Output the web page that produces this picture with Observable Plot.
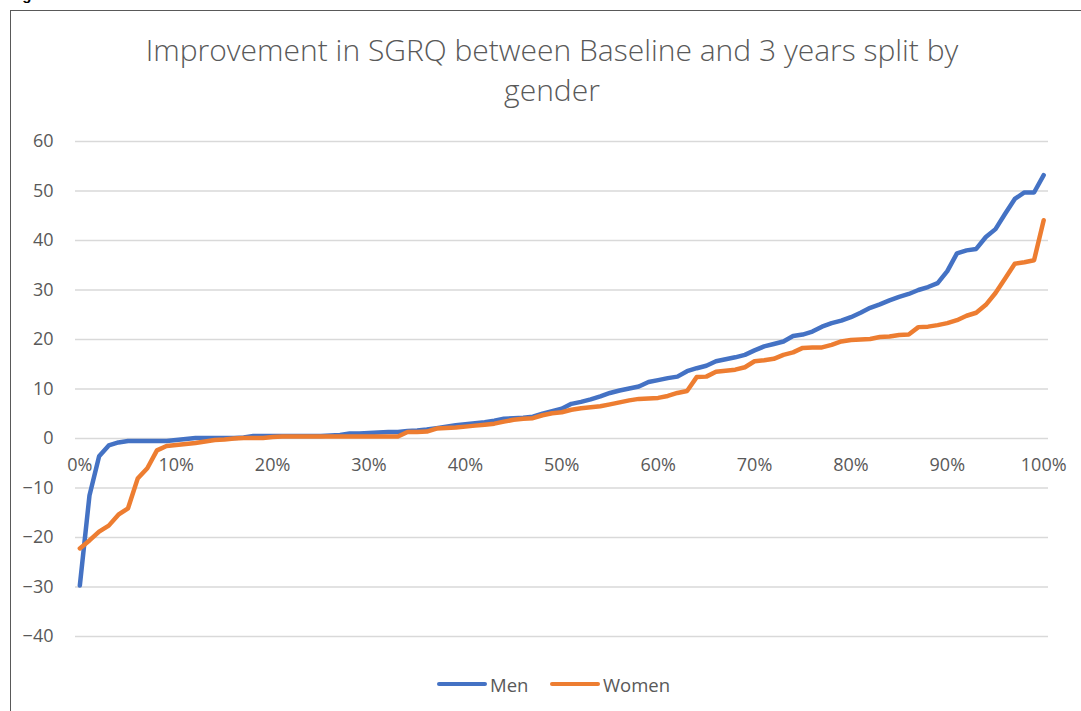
<!DOCTYPE html>
<html>
<head>
<meta charset="utf-8">
<script src="https://cdn.jsdelivr.net/npm/d3@7"></script>
<script src="https://cdn.jsdelivr.net/npm/@observablehq/plot@0.6"></script>
<style>
  html, body { margin: 0; padding: 0; background: #fff; }
  #wrap { position: relative; width: 1081px; height: 711px; overflow: hidden; font-family: "Open Sans", sans-serif; }
  #frame { position: absolute; left: 10px; top: 10px; width: 1090px; height: 720px; border: 1px solid #595959; box-sizing: border-box; }
  #fig { position: absolute; left: 9px; top: -13px; font: bold 15px/15px "Liberation Sans", sans-serif; color: #000; }
  #title { position: absolute; left: 52px; width: 1000px; top: 30px; text-align: center; font-weight: 300; font-size: 30px; line-height: 40px; color: #595959; }
  #chart { position: absolute; left: 0; top: 0; }
  #legend { position: absolute; top: 672px; left: 0; width: 1081px; height: 24px; font-size: 18.5px; color: #595959; }
  .item { position: absolute; top: 0; display: flex; align-items: center; height: 24px; }
  .sw { width: 50px; height: 4px; border-radius: 2px; margin-right: 3px; }
</style>
</head>
<body>
<div id="wrap">
  <div id="fig">Figure</div>
  <div id="frame"></div>
  <div id="title">Improvement in SGRQ between Baseline and 3 years split by<br>gender</div>
  <div id="chart"></div>
  <div id="legend">
    <div class="item" style="left:437px"><div class="sw" style="background:#4472C4"></div>Men</div>
    <div class="item" style="left:550px"><div class="sw" style="background:#ED7D31"></div>Women</div>
  </div>
</div>
<script>
// Percentile positions (0% .. 100%)
const pct = [0,1,2,3,4,5,6,7,8,9,10,11,12,13,14,15,16,17,18,19,20,21,22,23,24,25,26,27,28,29,30,31,32,33,34,35,36,37,38,39,40,41,42,43,44,45,46,47,48,49,50,51,52,53,54,55,56,57,58,59,60,61,62,63,64,65,66,67,68,69,70,71,72,73,74,75,76,77,78,79,80,81,82,83,84,85,86,87,88,89,90,91,92,93,94,95,96,97,98,99,100];

const men = [-29.7,-11.5,-3.6,-1.4,-0.8,-0.5,-0.5,-0.5,-0.5,-0.5,
  -0.3,-0.1,0.1,0.1,0.1,0.1,0.1,0.2,0.5,0.5,
  0.5,0.5,0.5,0.5,0.5,0.5,0.6,0.7,1.0,1.0,
  1.1,1.2,1.3,1.3,1.5,1.6,1.8,2.1,2.4,2.7,
  2.9,3.1,3.3,3.6,4.0,4.1,4.2,4.4,5.0,5.5,
  6.0,7.0,7.4,7.9,8.5,9.2,9.7,10.1,10.5,11.4,
  11.8,12.2,12.5,13.6,14.2,14.7,15.6,16.0,16.4,16.9,
  17.8,18.6,19.1,19.6,20.7,21.0,21.6,22.6,23.3,23.8,
  24.5,25.4,26.4,27.1,27.9,28.6,29.2,30.0,30.6,31.4,
  33.8,37.4,38.0,38.3,40.7,42.3,45.4,48.4,49.7,49.7,
  53.2];

const women = [-22.2,-20.6,-18.8,-17.6,-15.4,-14.1,-8.1,-6.0,-2.4,-1.5,
  -1.3,-1.1,-0.9,-0.6,-0.3,-0.2,0.0,0.1,0.1,0.1,
  0.3,0.4,0.4,0.4,0.4,0.4,0.4,0.4,0.4,0.4,
  0.4,0.4,0.4,0.4,1.3,1.3,1.4,2.0,2.1,2.2,
  2.4,2.6,2.8,3.0,3.4,3.8,4.0,4.1,4.7,5.1,
  5.3,5.8,6.1,6.3,6.5,6.9,7.3,7.7,8.0,8.1,
  8.2,8.6,9.2,9.6,12.4,12.5,13.5,13.7,13.9,14.4,
  15.6,15.8,16.1,16.9,17.4,18.3,18.4,18.4,18.9,19.6,
  19.9,20.0,20.1,20.5,20.6,20.9,21.0,22.5,22.6,22.9,
  23.3,23.9,24.8,25.4,27.0,29.4,32.3,35.3,35.6,36.0,
  44.1];

const yTicks = [-40,-30,-20,-10,0,10,20,30,40,50,60];
const xTicks = [0,10,20,30,40,50,60,70,80,90,100];
const xLabels = ["0%","10%","20%","30%","40%","50%","60%","70%","80%","90%","100%"];

const series = [
  {name: "Men", color: "#4472C4", values: men},
  {name: "Women", color: "#ED7D31", values: women}
];

const rows = series.flatMap(s => s.values.map((v, i) => ({series: s.name, x: pct[i], y: v})));

const chart = Plot.plot({
  width: 1081,
  height: 711,
  marginLeft: 75,
  marginRight: 33,
  marginTop: 141,
  marginBottom: 75,
  style: {fontFamily: "Open Sans, sans-serif", background: "transparent", overflow: "visible"},
  x: {domain: [-0.45, 100.5], axis: null},
  y: {domain: [-40, 60], ticks: yTicks},
  color: {domain: series.map(s => s.name), range: series.map(s => s.color)},
  marks: [
    Plot.ruleY(yTicks, {stroke: "#d9d9d9", strokeWidth: 1.3}),
    Plot.axisY({ticks: yTicks, tickSize: 0, tickPadding: 22, label: null, fontSize: 18, fill: "#595959"}),
    Plot.text(xTicks, {x: d => d, y: 0, text: (d, i) => xLabels[i], dy: 27, fontSize: 18, fill: "#595959"}),
    Plot.line(rows, {x: "x", y: "y", z: "series", stroke: "series", strokeWidth: 4.5, strokeLinejoin: "round", strokeLinecap: "round"})
  ]
});
document.getElementById("chart").appendChild(chart);
</script>
</body>
</html>
